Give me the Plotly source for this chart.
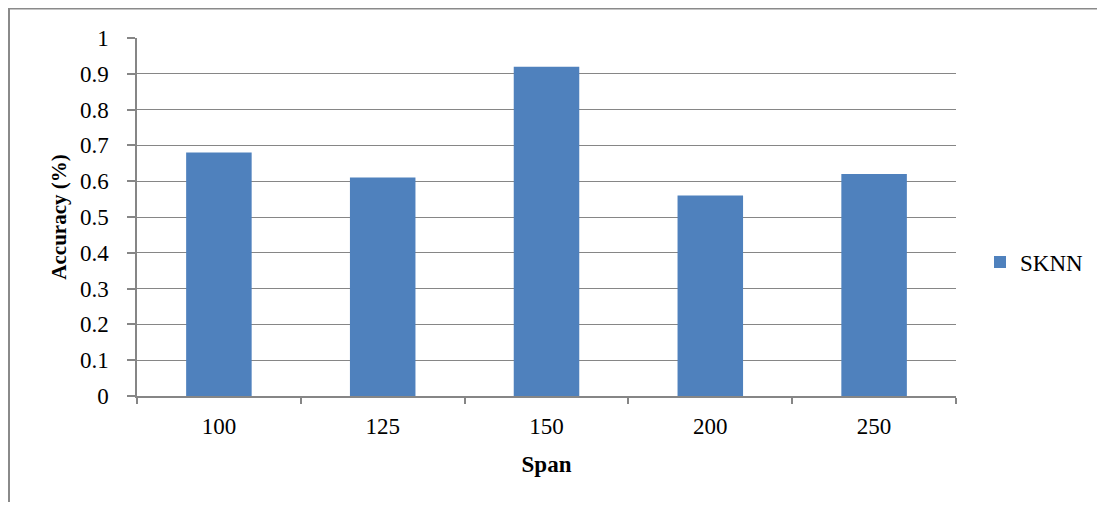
import plotly.graph_objects as go

categories = ["100", "125", "150", "200", "250"]
sknn = [0.68, 0.61, 0.92, 0.56, 0.62]
y_ticks = [0, 0.1, 0.2, 0.3, 0.4, 0.5, 0.6, 0.7, 0.8, 0.9, 1]
y_tick_labels = ["0", "0.1", "0.2", "0.3", "0.4", "0.5", "0.6", "0.7", "0.8", "0.9", "1"]

# page has an 8px body margin; figure coordinates below are page - 8
W, H = 1089, 494
L, T, R, B = 129, 30, 141, 106
pw, ph = W - L - R, H - T - B

font = "Liberation Serif, Times New Roman, serif"
fs = 23
grey = "#868686"

fig = go.Figure()
fig.add_trace(go.Bar(x=categories, y=sknn, name="SKNN", marker=dict(color="#4F81BD", line=dict(width=0))))

fig.update_layout(
    width=W, height=H,
    margin=dict(l=L, r=R, t=T, b=B, autoexpand=False),
    paper_bgcolor="white", plot_bgcolor="white",
    bargap=0.6,
    font=dict(family=font, size=fs, color="black"),
    showlegend=True,
    legend=dict(x=(972 - L) / pw, y=(388 - 254) / ph, xanchor="left", yanchor="middle",
                font=dict(family=font, size=fs, color="black"), itemwidth=30,
                bgcolor="rgba(0,0,0,0)"),
    xaxis=dict(
        type="category", showgrid=False, showline=True, linecolor=grey, linewidth=1.5,
        ticks="outside", tickson="boundaries", ticklen=6, tickcolor=grey, tickwidth=1.5,
        ticklabelstandoff=9,
        title=dict(text="<b>Span</b>", font=dict(family=font, size=fs), standoff=18),
        tickfont=dict(family=font, size=fs),
    ),
    yaxis=dict(
        range=[0, 1], tickvals=y_ticks, ticktext=y_tick_labels,
        showgrid=True, gridcolor=grey, gridwidth=1.2,
        showline=True, linecolor=grey, linewidth=1.5,
        ticks="outside", ticklen=8, tickcolor=grey, tickwidth=1.5,
        ticklabelstandoff=14,
        zeroline=False,
        title=dict(text="<b>Accuracy (%)</b>", font=dict(family=font, size=21), standoff=8),
        tickfont=dict(family=font, size=fs),
    ),
    shapes=[dict(type="rect", xref="paper", yref="paper",
                 x0=(1 - L) / pw, x1=(W + 30 - L) / pw,
                 y0=-(H + 30 - (T + ph)) / ph, y1=(T + ph - 0.5) / ph,
                 line=dict(color="#8a8a8a", width=2), fillcolor="rgba(0,0,0,0)", layer="below")],
)

fig.write_html("out.html")
